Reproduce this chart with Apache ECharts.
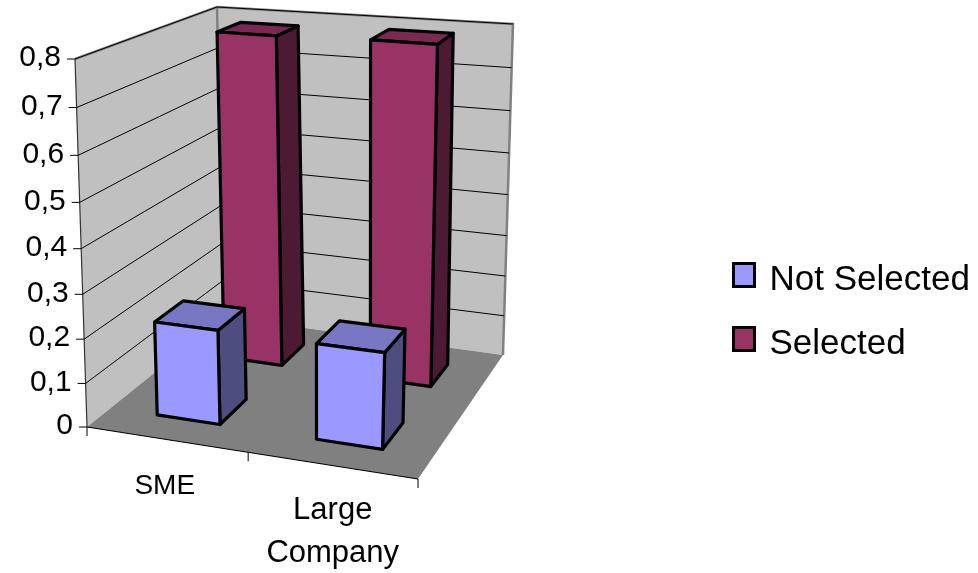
<!DOCTYPE html>
<html>
<head>
<meta charset="utf-8">
<style>html,body{margin:0;padding:0;background:#fff}#chart{width:978px;height:573px}</style>
<script src="https://cdn.jsdelivr.net/npm/echarts@6/dist/echarts.min.js"></script>
</head>
<body>
<div id="chart"></div>
<script>
// Chart values
const categories = ['SME', 'Large Company'];
const notSelected = [0.215, 0.215];
const selected = [0.785, 0.79];
const tickValues = [0, 0.1, 0.2, 0.3, 0.4, 0.5, 0.6, 0.7, 0.8];
const tickLabels = ['0', '0,1', '0,2', '0,3', '0,4', '0,5', '0,6', '0,7', '0,8'];

// Plot box: corners of the floor and of the ceiling plane as seen in perspective
const FLOOR = [[87, 427], [418, 479], [503, 355], [224, 317]];
const CEIL = [[75, 59], [435, 89], [513, 24], [217, 7]];
const GRID = { left: 87, top: 59, width: 331, height: 368 };
const FONT = 'Liberation Sans';
const STROKE = '#000';
const BAR_FRACTION = 0.4;
const ROW_CENTER = [0.25, 0.75];
const BAR_FACES = [
  { front: '#9999FF', top: '#7777C4', side: '#4D4D80' },
  { front: '#993366', top: '#7A2952', side: '#4D1A33' }
];
// Swatch with an empty move below it, so the name sits a little under the square's centre
const SWATCH = 'path://M0,0H21V23H0Z M0,34';

// Maps the unit square onto a quadrilateral with a projective transform
function quadMap(q) {
  const [x0, y0] = q[0], [x1, y1] = q[1], [x2, y2] = q[2], [x3, y3] = q[3];
  const dx1 = x1 - x2, dx2 = x3 - x2, sx = x0 - x1 + x2 - x3;
  const dy1 = y1 - y2, dy2 = y3 - y2, sy = y0 - y1 + y2 - y3;
  const det = dx1 * dy2 - dx2 * dy1;
  const g = (sx * dy2 - dx2 * sy) / det, h = (dx1 * sy - sx * dy1) / det;
  const a = x1 - x0 + g * x1, b = x3 - x0 + h * x3;
  const d = y1 - y0 + g * y1, e = y3 - y0 + h * y3;
  return (u, v) => {
    const w = g * u + h * v + 1;
    return [(a * u + b * v + x0) / w, (d * u + e * v + y0) / w];
  };
}
const floorAt = quadMap(FLOOR);
const ceilAt = quadMap(CEIL);
// Nearer heights spread slightly: the camera looks down from above
const warp = t => t * 0.94 / (1 + (0.94 - 1) * t);
function project(u, d, t) {
  const a = floorAt(u, d), b = ceilAt(u, d), k = warp(t);
  return [a[0] + (b[0] - a[0]) * k, a[1] + (b[1] - a[1]) * k];
}

function heightOf(api, v) {
  const y0 = api.coord([0, 0])[1];
  const y1 = api.coord([0, tickValues[tickValues.length - 1]])[1];
  return (y0 - api.coord([0, v])[1]) / (y0 - y1);
}
const poly = (points, fill, stroke, lineWidth) => ({
  type: 'polygon', shape: { points },
  style: { fill, stroke: stroke || null, lineWidth: lineWidth || 0, lineJoin: 'round' }
});
const line = (points, stroke, lineWidth) => ({
  type: 'polyline', shape: { points },
  style: { fill: null, stroke, lineWidth }
});

// Walls, floor and their edges
function renderWalls() {
  const g = [
    poly([project(0, 0, 0), project(0, 0, 1), project(0, 1, 1), project(0, 1, 0)], '#C0C0C0'),
    poly([project(0, 1, 0), project(0, 1, 1), project(1, 1, 1), project(1, 1, 0)], '#C0C0C0'),
    poly([project(0, 0, 0), project(1, 0, 0), project(1, 1, 0), project(0, 1, 0)], '#808080'),
    line([project(0, 0, 1), project(0, 1, 1), project(1, 1, 1), project(1, 1, 0)], '#808080', 2.5),
    line([project(0, 1, 0), project(0, 1, 1)], '#808080', 2.5),
    line([project(0, 0, 0), project(0, 0, 1)], '#333', 1.2),
    line([project(0, 0, 0), project(1, 0, 0)], '#000', 1.2)
  ];
  [0, 0.5, 1].forEach(u => {
    const p = project(u, 0, 0);
    g.push(line([p, [p[0], p[1] + 9]], '#000', 1));
  });
  return { type: 'group', children: g };
}

// One gridline across both walls plus its tick on the value axis
function renderGridline(params, api) {
  const t = heightOf(api, api.value(1));
  const p = project(0, 0, t);
  const children = [line([[p[0] - 8, p[1]], p], '#000', 1)];
  if (t > 0) children.push(line([p, project(0, 1, t), project(1, 1, t)], '#000', 1));
  return { type: 'group', children };
}

// A column: front, top and right faces
function makeBarRenderer(row) {
  return function (params, api) {
    const band = api.size([1, 0])[0] / GRID.width;
    const uc = (api.coord([api.value(0), 0])[0] - GRID.left) / GRID.width;
    const half = band * BAR_FRACTION / 2;
    const u0 = uc - half, u1 = uc + half;
    const d0 = ROW_CENTER[row] - half, d1 = ROW_CENTER[row] + half;
    const t = heightOf(api, api.value(1));
    const c = BAR_FACES[row];
    const W = 3.2;
    return {
      type: 'group',
      children: [
        poly([project(u1, d0, 0), project(u1, d0, t), project(u1, d1, t), project(u1, d1, 0)], c.side, STROKE, W),
        poly([project(u0, d0, t), project(u1, d0, t), project(u1, d1, t), project(u0, d1, t)], c.top, STROKE, W),
        poly([project(u0, d0, 0), project(u0, d0, t), project(u1, d0, t), project(u1, d0, 0)], c.front, STROKE, W)
      ]
    };
  };
}

// Value labels follow the tilted front edge of the left wall, sitting just above each tick
const yRich = {};
tickValues.forEach((v, i) => {
  const t = v / tickValues[tickValues.length - 1];
  const p = project(0, 0, t);
  const dx = GRID.left - p[0];
  const dy = p[1] - (GRID.top + GRID.height * (1 - t)) - 1;
  yRich['t' + i] = {
    fontFamily: FONT, fontSize: 30, color: '#000',
    padding: [Math.max(0, 2 * dy), dx, Math.max(0, -2 * dy), 0]
  };
});

const xRich = {
  c0: { fontFamily: FONT, fontSize: 28, color: '#000', lineHeight: 44, padding: [0, 10, 0, 0] },
  spacer: { fontSize: 10, lineHeight: 25 },
  c1: { fontFamily: FONT, fontSize: 31, color: '#000', lineHeight: 43, padding: [0, 5, 0, 0] }
};

const chart = echarts.init(document.getElementById('chart'), null, { renderer: 'canvas' });
chart.setOption({
  animation: false,
  backgroundColor: '#fff',
  grid: { left: GRID.left, top: GRID.top, width: GRID.width, height: GRID.height },
  legend: {
    data: ['Not Selected', 'Selected'].map(name => ({ name, icon: SWATCH })),
    orient: 'vertical', left: 727, top: 257,
    itemWidth: 21, itemHeight: 34, itemGap: 27,
    itemStyle: { borderColor: '#000', borderWidth: 3 },
    textStyle: { fontFamily: FONT, fontSize: 35, lineHeight: 35, color: '#000', padding: [0, 0, 0, 10] },
    selectedMode: false
  },
  xAxis: {
    type: 'category', data: categories,
    axisLine: { show: false }, axisTick: { show: false }, splitLine: { show: false },
    axisLabel: {
      margin: 37,
      interval: 0,
      formatter: (name, i) => i === 0
        ? `{c0|${name}}`
        : '{spacer| }\n' + name.split(' ').map(w => `{c1|${w}}`).join('\n'),
      rich: xRich
    }
  },
  yAxis: {
    type: 'value', min: 0, max: 0.8, interval: 0.1,
    axisLine: { show: false }, axisTick: { show: false }, splitLine: { show: false },
    axisLabel: {
      margin: 14,
      formatter: v => {
        const i = Math.round(v * 10);
        return `{t${i}|${tickLabels[i]}}`;
      },
      rich: yRich
    }
  },
  series: [
    { type: 'custom', name: 'walls', z: 1, silent: true, clip: false, renderItem: renderWalls, data: [[0, 0]] },
    { type: 'custom', name: 'gridlines', z: 2, silent: true, clip: false, renderItem: renderGridline,
      encode: { x: 0, y: 1 }, data: tickValues.map(v => [0, v]) },
    { type: 'custom', name: 'Selected', z: 3, clip: false, renderItem: makeBarRenderer(1),
      itemStyle: { color: BAR_FACES[1].front }, encode: { x: 0, y: 1 },
      data: selected.map((v, i) => [i, v]) },
    { type: 'custom', name: 'Not Selected', z: 4, clip: false, renderItem: makeBarRenderer(0),
      itemStyle: { color: BAR_FACES[0].front }, encode: { x: 0, y: 1 },
      data: notSelected.map((v, i) => [i, v]) }
  ]
});
</script>
</body>
</html>
